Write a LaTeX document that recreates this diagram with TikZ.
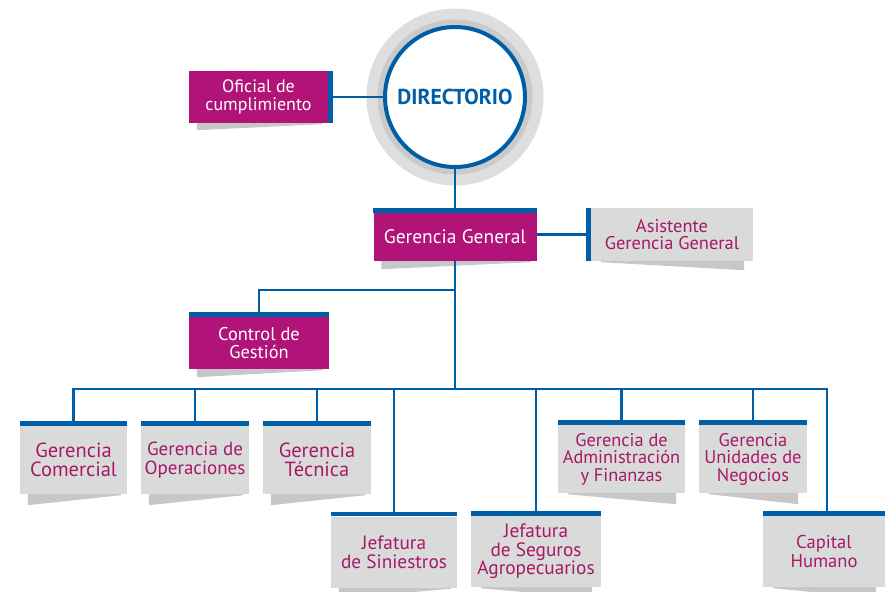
\documentclass[tikz,border=0pt]{standalone}
\usepackage{fontspec}
\setmainfont{PT Sans}
\definecolor{bluec}{RGB}{0,94,166}
\definecolor{magc}{RGB}{178,19,121}
\definecolor{magt}{RGB}{168,24,104}
\definecolor{grayc}{RGB}{217,219,218}
\definecolor{shadc}{RGB}{198,199,198}
\definecolor{ringa}{RGB}{221,222,221}
\definecolor{ringb}{RGB}{201,202,201}
\pgfdeclarelayer{shd}
\pgfdeclarelayer{con}
\pgfsetlayers{shd,con,main}
\newcommand\shadL[2]{\fill[shadc] ([xshift=8pt]#1.south west) -- ([xshift=8pt,yshift=-#2pt]#1.south west) -- ([xshift=-6pt,yshift=-1pt]#1.south east) -- ([xshift=-6pt]#1.south east) -- cycle;}
\newcommand\shadR[2]{\fill[shadc] ([xshift=10pt]#1.south west) -- ([xshift=10pt,yshift=-1pt]#1.south west) -- ([xshift=-9pt,yshift=-#2pt]#1.south east) -- ([xshift=-9pt]#1.south east) -- cycle;}
\newcommand\barTop[1]{\fill[bluec] (#1.north west) rectangle ([yshift=4.5pt]#1.north east);}
\begin{document}
\begin{tikzpicture}[x=1pt,y=-1pt,
  box/.style={inner sep=0pt, align=center, font=\fontsize{18}{17.5}\selectfont},
  fs/.style={font=\fontsize{#1}{0.93*#1}\selectfont},
  graybox/.style={box, fill=grayc, text=magt},
  magbox/.style={box, fill=magc, text=white},
  conn/.style={draw=bluec, line width=2.6pt},
  lowbox/.style={minimum height=68pt},
  deepbox/.style={minimum height=71pt}]
\useasboundingbox (0,0) rectangle (887,592);
% top
\node[circle, draw=bluec, line width=4pt, fill=white, minimum size=140pt, inner sep=0pt,
  font=\bfseries\fontsize{21.6}{21}\selectfont, text=bluec] (dir) at (455,97) {DIRECTORIO};
\node[magbox, minimum width=139pt, minimum height=52pt] (ofi) at (258.5,97) {Oficial de\\cumplimiento};
\node[magbox, font=\fontsize{19.5}{19}\selectfont, minimum width=163pt, minimum height=48pt] (gg) at (455,237) {Gerencia General};
\node[graybox, font=\fontsize{18.4}{17.8}\selectfont, minimum width=162pt, minimum height=53pt] (asi) at (672,234.5) {Asistente\\Gerencia General};
\node[magbox, font=\fontsize{18.4}{17.8}\selectfont, minimum width=140pt, minimum height=52pt] (cdg) at (259,343) {Control de\\Gesti\'on};
% row 1
\node[graybox, lowbox, font=\fontsize{20.5}{19}\selectfont, minimum width=107pt] (com) at (73.5,460) {Gerencia\\Comercial};
\node[graybox, lowbox, font=\fontsize{19}{18.5}\selectfont, minimum width=108pt] (ope) at (195,460) {Gerencia de\\Operaciones};
\node[graybox, lowbox, font=\fontsize{20.5}{19}\selectfont, minimum width=108pt] (tec) at (317,460) {Gerencia\\T\'ecnica};
\node[graybox, lowbox, font=\fontsize{18.3}{17.5}\selectfont, minimum width=127pt] (adm) at (621.5,459) {Gerencia de\\Administraci\'on\\y Finanzas};
\node[graybox, lowbox, font=\fontsize{18.4}{17.5}\selectfont, minimum width=108pt] (uni) at (753,459) {Gerencia\\Unidades de\\Negocios};
% row 2
\node[graybox, deepbox, font=\fontsize{19.3}{19}\selectfont, minimum width=126pt] (sin) at (394,552) {Jefatura\\de Siniestros};
\node[graybox, deepbox, font=\fontsize{19.3}{18.5}\selectfont, minimum width=130pt] (seg) at (536,551.5) {Jefatura\\de Seguros\\Agropecuarios};
\node[graybox, deepbox, font=\fontsize{18.6}{18.5}\selectfont, minimum width=122pt] (cap) at (824,551.5) {Capital\\Humano};
% bars
\fill[bluec] (ofi.north east) rectangle ([xshift=5pt]ofi.south east);
\fill[bluec] ([xshift=-4.5pt]asi.north west) rectangle (asi.south west);
\foreach \n in {gg,cdg,com,ope,tec,adm,uni,sin,seg,cap} {\barTop{\n}}
% shadows
\begin{pgfonlayer}{shd}
  \fill[ringa] (dir.center) circle (88.5pt);
  \fill[ringb] (dir.center) circle (77.5pt);
  \shadL{ofi}{7}
  \shadL{gg}{8}
  \shadR{asi}{9}
  \shadL{cdg}{8}
  \foreach \n in {com,ope,tec,sin} {\shadL{\n}{11}}
  \foreach \n in {seg,adm,uni,cap} {\shadR{\n}{11}}
\end{pgfonlayer}
% connectors
\begin{pgfonlayer}{con}
  \coordinate (bus) at (455,389);
  \coordinate (branch) at (455,290);
  \coordinate (capin) at ([xshift=3pt]cap.north);
  \draw[conn] (ofi.east) -- (dir.west);
  \draw[conn] (dir.south) -- (gg.north);
  \draw[conn] (asi.west -| gg.east) -- (asi.west);
  \draw[conn] (gg.south) -- (bus);
  \draw[conn] (branch) -| (cdg.north);
  \draw[conn] (com.north) |- (bus) -| (capin);
  \foreach \n in {ope,tec,sin,seg,adm,uni} {\draw[conn] (\n.north) -- (\n.north |- bus);}
\end{pgfonlayer}
\end{tikzpicture}
\end{document}
